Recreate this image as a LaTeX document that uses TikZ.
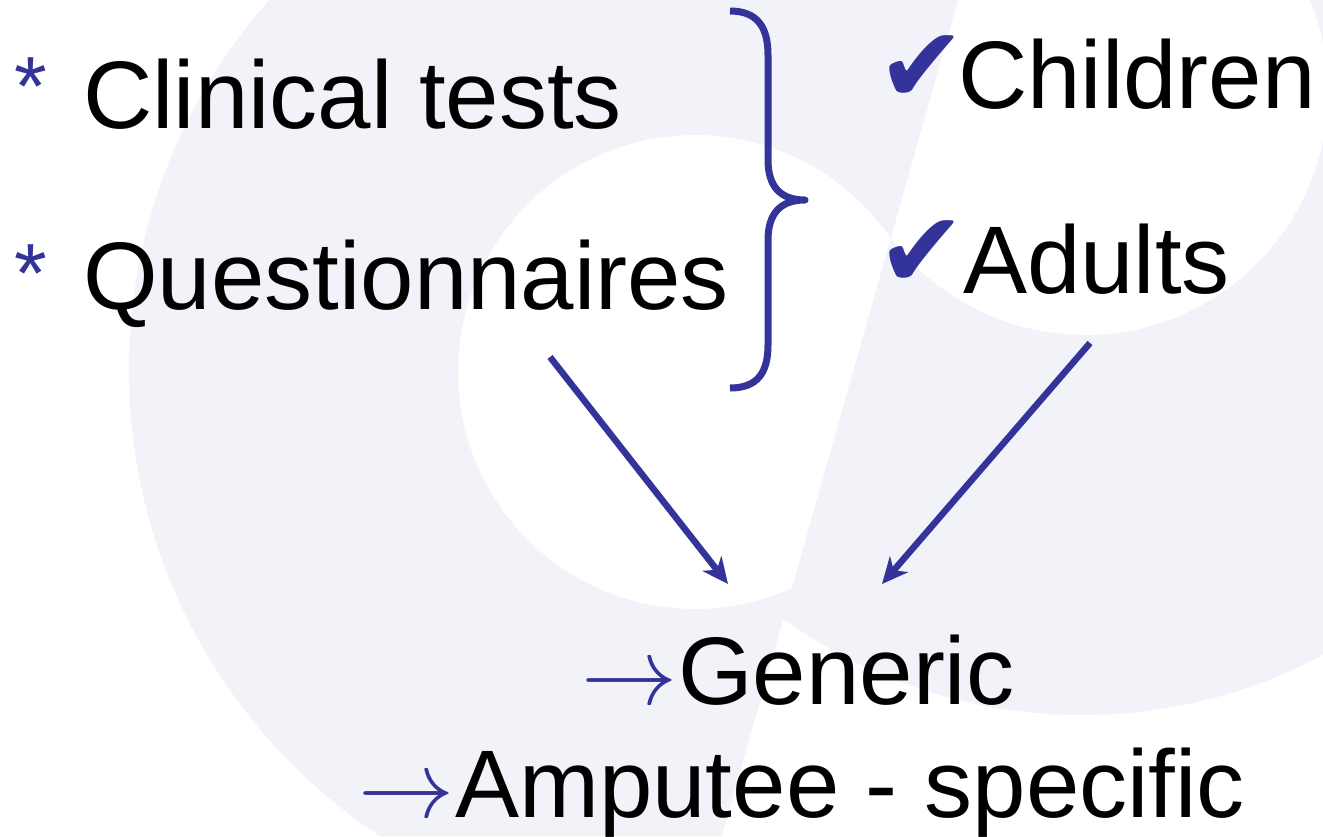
\documentclass[tikz,border=0pt]{standalone}
\usepackage{fix-cm}
\usepackage{fontspec}
\setmainfont{Liberation Sans}
\newfontfamily\tickfont{DejaVu Sans}
\usetikzlibrary{arrows.meta}

\definecolor{slideblue}{RGB}{51,51,153}
\definecolor{swirl}{RGB}{242,243,249}

\tikzset{
  item/.style={inner sep=0pt, anchor=base west, font=\fontsize{96}{110}\selectfont},
  bullet/.style={inner sep=0pt, anchor=north, text=slideblue, font=\fontsize{84}{100}\selectfont},
  tick/.style={inner sep=0pt, anchor=north, text=slideblue, font=\tickfont\fontsize{106}{120}\selectfont},
  pointer/.style={inner sep=0pt, anchor=base east, text=slideblue, font=\fontsize{96}{110}\selectfont},
  bigarrow/.style={draw=slideblue, line width=6.5pt, -{Stealth[length=26pt,width=24pt,inset=8pt]}},
  brace/.style={draw=slideblue, line width=7pt, line join=round}
}

\begin{document}
\begin{tikzpicture}[x=1pt,y=-1pt]
\useasboundingbox (0,0) rectangle (1323,836);
\fill[white] (0,0) rectangle (1323,836);

% background swirl
\begin{scope}
\clip (0,0) -- (958,0) -- (722,836) -- (0,836) -- cycle;
\fill[swirl, even odd rule] (687,370) circle[radius=558pt] (695,372) circle[radius=237pt];
\end{scope}
\begin{scope}
\clip (958,0) -- (1323,0) -- (1323,836) -- (722,836) -- cycle;
\fill[swirl, even odd rule] (1082,203) circle[radius=512pt] (1085,92) circle[radius=243pt];
\end{scope}

% left list
\node[item] (cl_tests) at (83,128) {Clinical tests};
\node[item] (quest) at (83,309) {Questionnaires};
\node[bullet] (cl_star) at (31,58) {*};
\node[bullet] (qu_star) at (31,245) {*};

% right list
\node[item] (child) at (958,108) {Children};
\node[item] (adult) at (963,293) {Adults};
\node[tick] (child_tick) at (922,35) {✔};
\node[tick] (adult_tick) at (922,220) {✔};

% result
\node[item] (gen) at (678,704) {Generic};
\node[item] (amp) at (455,817) {Amputee - specific};
\node[pointer] (gen_ptr) at (gen.base west) {$\rightarrow$};
\node[pointer] (amp_ptr) at (amp.base west) {$\rightarrow$};

\draw[brace] (730,11) .. controls (758,11) and (768,28) .. (768,55) -- (768,160)
  .. controls (768,186) and (780,200) .. (805,200)
  .. controls (780,200) and (768,214) .. (768,240) -- (768,345)
  .. controls (768,372) and (758,388) .. (730,388);

\coordinate (q_tail) at (550,357);
\coordinate (g_left) at (728,584);
\coordinate (a_tail) at (1090,343);
\coordinate (g_right) at (882,584);

\path
(q_tail) edge[bigarrow] (g_left)
(a_tail) edge[bigarrow] (g_right)
; %end path
\end{tikzpicture}
\end{document}
